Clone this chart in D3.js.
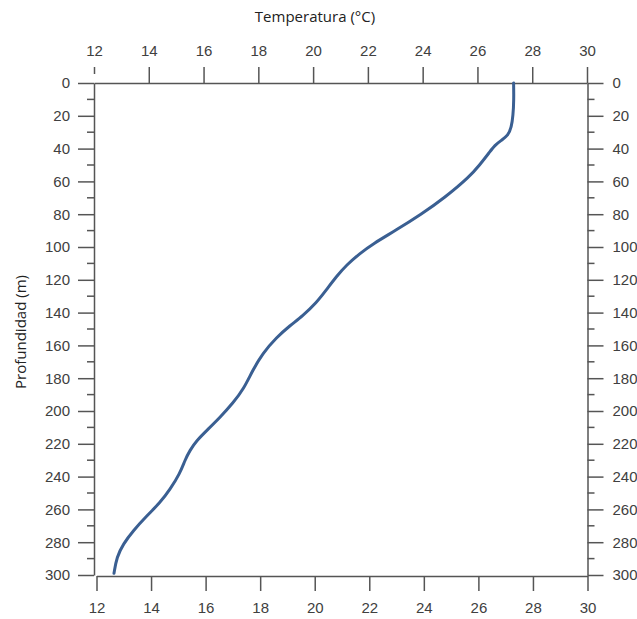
<!DOCTYPE html>
<html>
<head>
<meta charset="utf-8">
<script src="https://cdn.jsdelivr.net/npm/d3@7"></script>
<style>
  body { margin: 0; background: #fff; }
  svg { display: block; }
</style>
</head>
<body>
<svg id="chart" width="637" height="619"></svg>
<script>
// perfil de temperatura vs profundidad
var depths = [0, 10, 20, 27, 32, 35, 38, 42, 50, 57, 70, 80, 90, 98, 104, 111, 118, 126, 134, 142,
              148, 155, 165, 175, 187, 195, 204, 212, 218, 224, 230, 238, 248, 256, 264, 273, 281, 289, 299];
var temps = [27.32, 27.33, 27.3, 27.24, 27.12, 26.87, 26.63, 26.45, 26.08, 25.72, 24.8, 23.95, 23.0, 22.19, 21.7, 21.22, 20.85, 20.49, 20.12, 19.62,
             19.15, 18.67, 18.15, 17.8, 17.45, 17.08, 16.6, 16.11, 15.75, 15.5, 15.32, 15.14, 14.77, 14.41, 13.92, 13.43, 13.07, 12.83, 12.73];
var tempTicks = [12, 14, 16, 18, 20, 22, 24, 26, 28, 30];
var depthTicks = [0, 20, 40, 60, 80, 100, 120, 140, 160, 180, 200, 220, 240, 260, 280, 300];
var depthMinor = [10, 30, 50, 70, 90, 110, 130, 150, 170, 190, 210, 230, 250, 270, 290];

var svg = d3.select('#chart');
var axisColor = "#555",
    textColor = "#404040",
    lineColor = "#3a5f92";

var x = d3.scaleLinear().domain([12, 30]).range([94, 587]);
var xb = d3.scaleLinear().domain([12, 30]).range([96.5, 587.5]);
var y = d3.scaleLinear().domain([0, 300]).range([83, 575]);

function styleAxis(g) {
  g.selectAll("path.domain").attr("stroke", axisColor).attr("stroke-width", 1.5);
  g.selectAll(".tick line").attr("stroke", axisColor).attr("stroke-width", 1.5);
  g.selectAll(".tick text")
   .attr("fill", textColor)
   .attr("font-family", "Liberation Sans, Arial, sans-serif")
   .attr("font-size", "15px");
}

// eje superior
var axTop = svg.append("g").attr("transform", "translate(0,83)")
  .call(d3.axisTop(x).tickValues(tempTicks).tickSize(16).tickSizeOuter(0).tickPadding(11));
styleAxis(axTop);
axTop.selectAll(".tick line").filter(function(d) { return d == 12; })
   .attr("y1", -9).attr("y2", -16);

// eje inferior
var axBottom = svg.append("g").attr("transform", "translate(0,576)")
  .call(d3.axisBottom(xb).tickValues(tempTicks).tickSize(15).tickSizeOuter(0).tickPadding(11));
styleAxis(axBottom);

// eje izquierdo
var axLeft = svg.append("g").attr("transform", "translate(94,0)")
  .call(d3.axisLeft(y).tickValues(depthTicks).tickSize(16).tickSizeOuter(0).tickPadding(8));
styleAxis(axLeft);
axLeft.append("g").selectAll("line")
  .data(depthMinor).enter().append("line")
  .attr("x1", -7).attr("x2", 0)
  .attr("y1", function(d) { return y(d); })
  .attr("y2", function(d) { return y(d); })
  .attr("stroke", axisColor).attr("stroke-width", 1.5);

// eje derecho
var axRight = svg.append("g").attr("transform", "translate(587.5,0)")
  .call(d3.axisRight(y).tickValues(depthTicks).tickSize(16).tickSizeOuter(0).tickPadding(9));
styleAxis(axRight);
axRight.append("g").selectAll("line")
  .data(depthMinor).enter().append("line")
  .attr("x1", 0).attr("x2", 7)
  .attr("y1", function(d) { return y(d); })
  .attr("y2", function(d) { return y(d); })
  .attr("stroke", axisColor).attr("stroke-width", 1.5);

// perfil
var data = depths.map(function(d, i) { return {depth: d, temp: temps[i]}; });
var line = d3.line()
  .x(function(d) { return x(d.temp); })
  .y(function(d) { return y(d.depth); })
  .curve(d3.curveBasis);

svg.append("path")
  .datum(data)
  .attr("d", line)
  .attr("fill", "none")
  .attr("stroke", lineColor)
  .attr("stroke-width", 3)
  .attr("stroke-linecap", "round");

// titulos
svg.append("text")
  .attr("x", 315).attr("y", 22)
  .attr("text-anchor", "middle")
  .attr("font-family", "Open Sans, sans-serif")
  .attr("font-size", "15px")
  .attr("fill", "#222")
  .text("Temperatura (°C)");

svg.append("text")
  .attr("transform", "translate(26,332) rotate(-90)")
  .attr("text-anchor", "middle")
  .attr("font-family", "Open Sans, sans-serif")
  .attr("font-size", "15px")
  .attr("fill", "#222")
  .text("Profundidad (m)");
</script>
</body>
</html>
